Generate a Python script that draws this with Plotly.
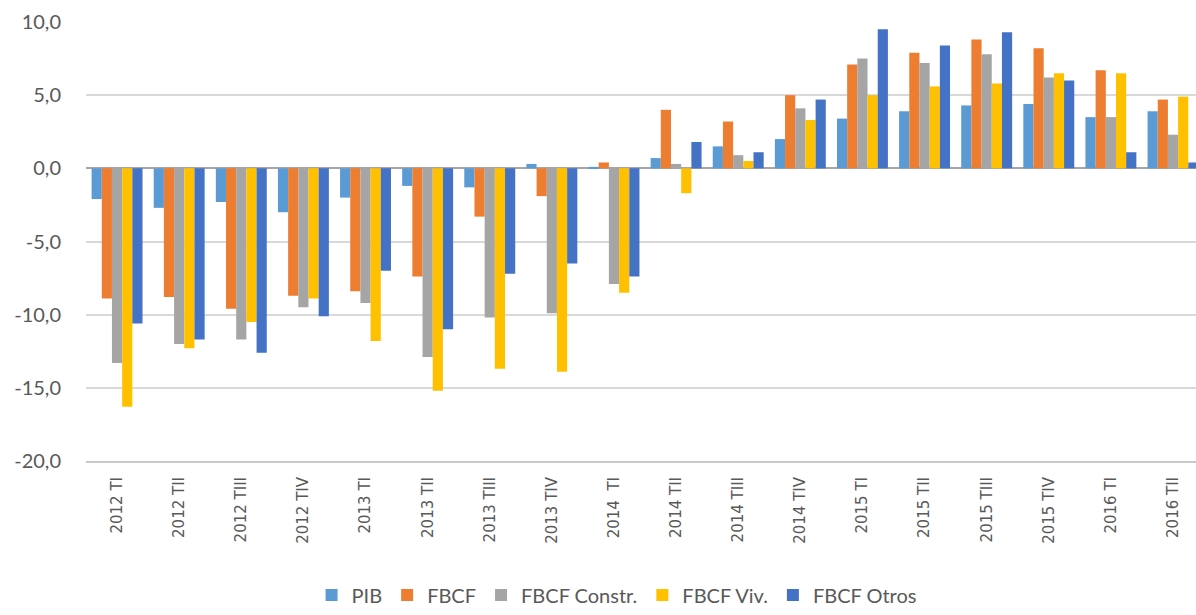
import plotly.graph_objects as go

# Quarterly labels
quarters = [
    "2012 TI", "2012 TII", "2012 TIII", "2012 TIV",
    "2013 TI", "2013 TII", "2013 TIII", "2013 TIV",
    "2014\u00a0\u00a0TI", "2014 TII", "2014 TIII", "2014 TIV",
    "2015 TI", "2015 TII", "2015 TIII", "2015 TIV",
    "2016 TI", "2016 TII",
]

# Year-on-year rates (%)
pib = [-2.1, -2.7, -2.3, -3.0, -2.0, -1.2, -1.3, 0.3, 0.1,
       0.7, 1.5, 2.0, 3.4, 3.9, 4.3, 4.4, 3.5, 3.9]
fbcf = [-8.9, -8.8, -9.6, -8.7, -8.4, -7.4, -3.3, -1.9, 0.4,
        4.0, 3.2, 5.0, 7.1, 7.9, 8.8, 8.2, 6.7, 4.7]
fbcf_constr = [-13.3, -12.0, -11.7, -9.5, -9.2, -12.9, -10.2, -9.9, -7.9,
               0.3, 0.9, 4.1, 7.5, 7.2, 7.8, 6.2, 3.5, 2.3]
fbcf_viv = [-16.3, -12.3, -10.5, -8.9, -11.8, -15.2, -13.7, -13.9, -8.5,
            -1.7, 0.5, 3.3, 5.0, 5.6, 5.8, 6.5, 6.5, 4.9]
fbcf_otros = [-10.6, -11.7, -12.6, -10.1, -7.0, -11.0, -7.2, -6.5, -7.4,
              1.8, 1.1, 4.7, 9.5, 8.4, 9.3, 6.0, 1.1, 0.4]

# Value axis ticks and their labels (hyphen minus, comma decimal)
y_ticks = [10, 5, 0, -5, -10, -15, -20]
y_tick_labels = ["10,0", "5,0", "0,0", "-5,0", "-10,0", "-15,0", "-20,0"]

series = [
    ("PIB", pib, "#5B9BD5"),
    ("FBCF", fbcf, "#ED7D31"),
    ("FBCF Constr.", fbcf_constr, "#A5A5A5"),
    ("FBCF Viv.", fbcf_viv, "#FFC000"),
    ("FBCF Otros", fbcf_otros, "#4472C4"),
]

fig = go.Figure()
for name, vals, color in series:
    fig.add_trace(go.Bar(
        x=quarters, y=vals, name=name,
        marker=dict(color=color, line=dict(width=0)),
    ))

text_color = "#595959"
font_family = "Lato, 'Open Sans', sans-serif"

fig.update_layout(
    width=1196, height=615,
    margin=dict(l=86, r=0, t=22, b=146),
    paper_bgcolor="white", plot_bgcolor="white",
    barmode="group", bargap=0.18, bargroupgap=0.0,
    font=dict(family=font_family, color=text_color),
    showlegend=True,
    legend=dict(
        orientation="h", x=0.478, xanchor="center",
        y=-0.305, yanchor="middle",
        font=dict(size=20, color=text_color),
        itemwidth=30, traceorder="normal",
    ),
    xaxis=dict(
        type="category", range=[-0.5, 17.37],
        tickangle=-90,
        tickfont=dict(size=15, color=text_color,
                      family="'DejaVu Sans', 'Open Sans', sans-serif"),
        showgrid=False, ticks="", showline=True,
        linecolor="#C8C8C8", linewidth=2, ticklabelstandoff=8,
    ),
    yaxis=dict(
        range=[-20, 10], tickmode="array",
        tickvals=y_ticks, ticktext=y_tick_labels,
        tickfont=dict(size=20, color=text_color),
        showgrid=True, gridcolor="#D9D9D9", gridwidth=1.5,
        zeroline=True, zerolinecolor="#A6A6A6", zerolinewidth=2,
        ticklabelstandoff=24, ticks="",
    ),
)

fig.write_html("out.html")
